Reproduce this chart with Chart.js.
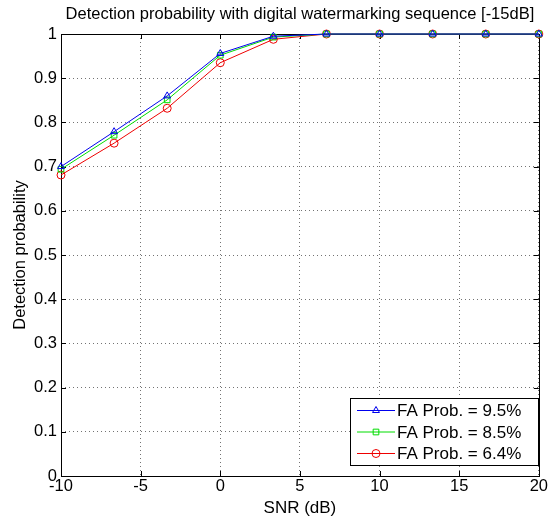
<!DOCTYPE html>
<html>
<head>
<meta charset="utf-8">
<script src="https://cdn.jsdelivr.net/npm/chart.js@4.4.0/dist/chart.umd.min.js"></script>
<style>
	body { margin: 0; background: #fff; }
	#wrap { width: 549px; height: 519px; }
</style>
</head>
<body>
<div id="wrap"><canvas id="chart-area" width="549" height="519"></canvas></div>
<script>
var snr = [-10, -6.667, -3.333, 0, 3.333, 6.667, 10, 13.333, 16.667, 20]
var pd_95 = [0.700, 0.779, 0.860, 0.956, 0.995, 1, 1, 1, 1, 1]
var pd_85 = [0.694, 0.771, 0.851, 0.952, 0.993, 1, 1, 1, 1, 1]
var pd_64 = [0.681, 0.753, 0.832, 0.935, 0.988, 1, 1, 1, 1, 1]
var series_labels = ['FA Prob. = 9.5%', 'FA Prob. = 8.5%', 'FA Prob. = 6.4%']
var x_ticks = [-10, -5, 0, 5, 10, 15, 20]
var y_ticks = [0, 0.1, 0.2, 0.3, 0.4, 0.5, 0.6, 0.7, 0.8, 0.9, 1]
var titulo = 'Detection probability with digital watermarking sequence [-15dB]'

var fuente = 'Liberation Sans, Arial, sans-serif'

function puntos(ys){
	return snr.map(function(x, i){ return {x: x, y: ys[i]} })
}

function serie(label, ys, color, estilo){
	return {
		label: label,
		data: puntos(ys),
		borderColor: color,
		backgroundColor: 'rgba(0,0,0,0)',
		borderWidth: 1,
		pointStyle: estilo,
		pointRadius: 4,
		pointBorderWidth: 1,
		pointBorderColor: color,
		pointBackgroundColor: 'rgba(0,0,0,0)',
		tension: 0,
		clip: false
	}
}

/* caja de ejes y marcas hacia adentro, estilo matlab */
var marco = {
	id: 'marco',
	beforeDatasetsDraw: function(chart){
		var ctx = chart.ctx, a = chart.chartArea
		var sx = chart.scales.x, sy = chart.scales.y
		ctx.save()
		ctx.strokeStyle = '#000'
		ctx.lineWidth = 1
		ctx.beginPath()
		x_ticks.forEach(function(v){
			var px = Math.round(sx.getPixelForValue(v)) + 0.5
			ctx.moveTo(px, a.bottom); ctx.lineTo(px, a.bottom - 5)
			ctx.moveTo(px, a.top); ctx.lineTo(px, a.top + 5)
		})
		y_ticks.forEach(function(v){
			var py = Math.round(sy.getPixelForValue(v)) + 0.5
			ctx.moveTo(a.left, py); ctx.lineTo(a.left + 5, py)
			ctx.moveTo(a.right, py); ctx.lineTo(a.right - 5, py)
		})
		ctx.stroke()
		ctx.strokeRect(Math.round(a.left) + 0.5, Math.round(a.top) + 0.5, Math.round(a.right - a.left), Math.round(a.bottom - a.top))

		// titulo centrado sobre el area de ejes, como en matlab
		ctx.fillStyle = '#000'
		ctx.font = '16.5px ' + fuente
		ctx.textAlign = 'center'
		ctx.textBaseline = 'alphabetic'
		ctx.fillText(titulo, (a.left + a.right) / 2, 19)
		ctx.restore()
	}
}

/* leyenda dentro del area, abajo a la derecha */
var leyenda = {
	id: 'leyenda',
	afterDraw: function(chart){
		var ctx = chart.ctx, a = chart.chartArea
		var w = 188, h = 67
		var x0 = Math.round(a.right - 1 - w), y0 = Math.round(a.bottom - 11 - h)
		ctx.save()
		ctx.fillStyle = '#fff'
		ctx.fillRect(x0, y0, w, h)
		ctx.strokeStyle = '#000'
		ctx.lineWidth = 1
		ctx.strokeRect(x0 + 0.5, y0 + 0.5, w, h)
		ctx.font = '17px ' + fuente
		ctx.textBaseline = 'middle'
		chart.data.datasets.forEach(function(ds, i){
			var yy = y0 + 12.5 + i * 21.5
			ctx.strokeStyle = ds.borderColor
			ctx.beginPath()
			ctx.moveTo(x0 + 7, yy); ctx.lineTo(x0 + 45, yy)
			ctx.stroke()
			ctx.fillStyle = 'rgba(0,0,0,0)'
			Chart.helpers.drawPoint(ctx, {pointStyle: ds.pointStyle, radius: 4, borderWidth: 1}, x0 + 26, yy)
			ctx.fillStyle = '#000'
			ctx.fillText(ds.label, x0 + 47, yy + 1)
		})
		ctx.restore()
	}
}

var ctx = document.getElementById('chart-area').getContext('2d')
window.grafica = new Chart(ctx, {
	type: 'line',
	data: {
		datasets: [
			serie(series_labels[0], pd_95, '#0000ee', 'triangle'),
			serie(series_labels[1], pd_85, '#00dd00', 'rect'),
			serie(series_labels[2], pd_64, '#ee0000', 'circle')
		]
	},
	options: {
		responsive: false,
		animation: false,
		layout: { padding: { top: 34, right: 7 } },
		plugins: {
			legend: { display: false },
			tooltip: { enabled: false },
			title: { display: false }
		},
		scales: {
			x: {
				type: 'linear',
				min: -10,
				max: 20,
				afterBuildTicks: function(s){ s.ticks = x_ticks.map(function(v){ return {value: v} }) },
				afterFit: function(s){ s.height = 43 },
				ticks: { color: '#000', padding: 1, font: { family: fuente, size: 16.5 }, maxRotation: 0 },
				grid: { color: 'rgba(0,0,0,0.55)', drawTicks: false },
				border: { display: false, dash: [1, 3] },
				title: { display: true, text: 'SNR (dB)', color: '#000', font: { family: fuente, size: 17 }, padding: { top: 0, bottom: 0 } }
			},
			y: {
				min: 0,
				max: 1,
				afterBuildTicks: function(s){ s.ticks = y_ticks.map(function(v){ return {value: v} }) },
				afterFit: function(s){ s.width = 61 },
				ticks: {
					color: '#000', padding: 4, font: { family: fuente, size: 16.5 },
					callback: function(v){ return String(+v.toFixed(1)) }
				},
				grid: { color: 'rgba(0,0,0,0.55)', drawTicks: false },
				border: { display: false, dash: [1, 3] },
				title: { display: true, text: 'Detection probability', color: '#000', font: { family: fuente, size: 16.5 }, padding: { top: 11, bottom: 0 } }
			}
		}
	},
	plugins: [marco, leyenda]
})
</script>
</body>
</html>
